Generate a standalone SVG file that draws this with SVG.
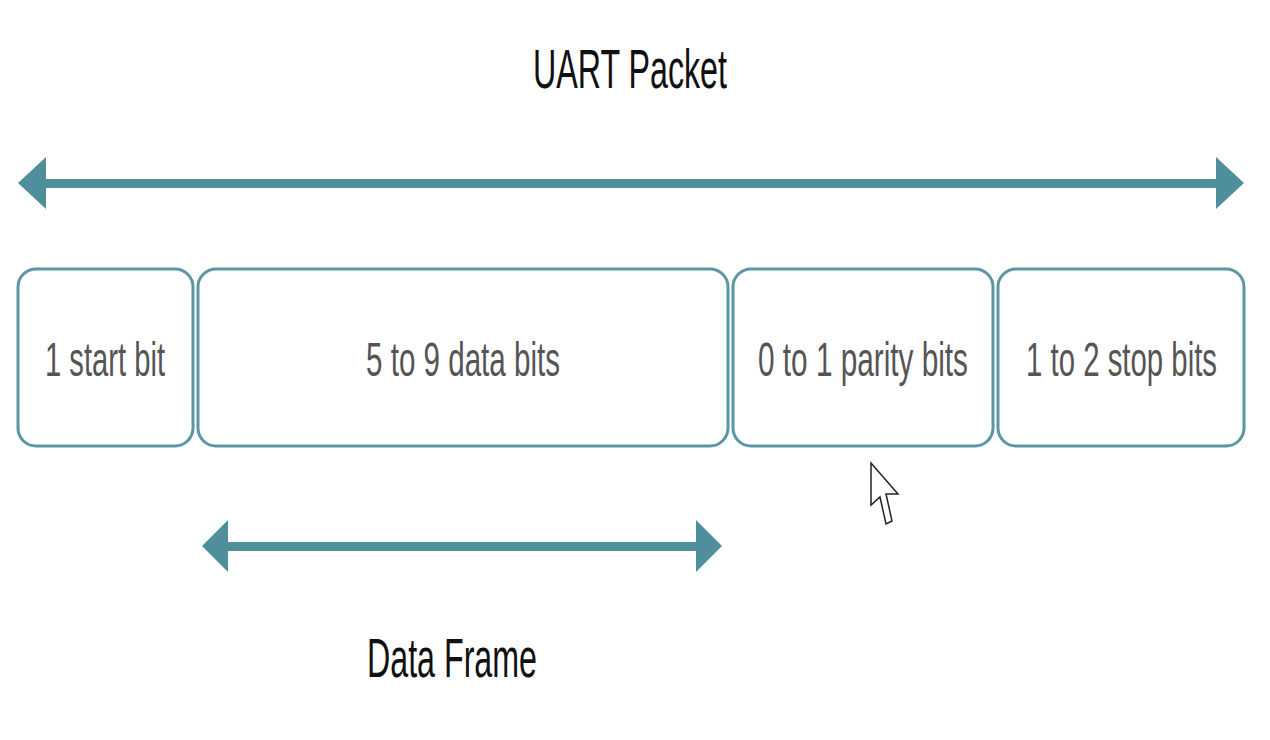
<svg xmlns="http://www.w3.org/2000/svg" width="1270" height="740" viewBox="0 0 1270 740">
<style>
.box{fill:#fff;stroke:#5a97a3;stroke-width:3}
.bt{font-family:"Liberation Sans",Arial,sans-serif;font-size:48px;fill:#555}
.tt{font-family:"Liberation Sans",Arial,sans-serif;font-size:56px;fill:#111}
.ar{fill:#4f8f9c}
</style>
<rect width="1270" height="740" fill="#fff"/>
<text class="tt" x="533" y="88" textLength="194" lengthAdjust="spacingAndGlyphs">UART Packet</text>
<g id="connectors">
<g id="packet-arrow"><rect class="ar" x="40" y="179" width="1184" height="9"/><polygon class="ar" points="18,183 46,157 46,209"/><polygon class="ar" points="1244,183 1216,157 1216,209"/></g>
<g id="frame-arrow"><rect class="ar" x="222" y="542" width="480" height="9"/><polygon class="ar" points="202,546 228,520 228,572"/><polygon class="ar" points="722,546 696,520 696,572"/></g>
</g>
<g id="start"><rect class="box" x="18" y="269" width="175" height="177" rx="18"/><text class="bt" x="45" y="376" textLength="120" lengthAdjust="spacingAndGlyphs">1 start bit</text></g>
<g id="data"><rect class="box" x="198" y="269" width="530" height="177" rx="18"/><text class="bt" x="366" y="376" textLength="194" lengthAdjust="spacingAndGlyphs">5 to 9 data bits</text></g>
<g id="parity"><rect class="box" x="733" y="269" width="260" height="177" rx="18"/><text class="bt" x="758" y="376" textLength="210" lengthAdjust="spacingAndGlyphs">0 to 1 parity bits</text></g>
<g id="stop"><rect class="box" x="998" y="269" width="246" height="177" rx="18"/><text class="bt" x="1026" y="376" textLength="191" lengthAdjust="spacingAndGlyphs">1 to 2 stop bits</text></g>
<text class="tt" x="367" y="677" textLength="170" lengthAdjust="spacingAndGlyphs">Data Frame</text>
<path d="M871,463 L871,505 L880,497 L886,524 L892,521 L886,494 L898,494 Z" fill="#fff" stroke="#222" stroke-width="1.5"/>
</svg>
